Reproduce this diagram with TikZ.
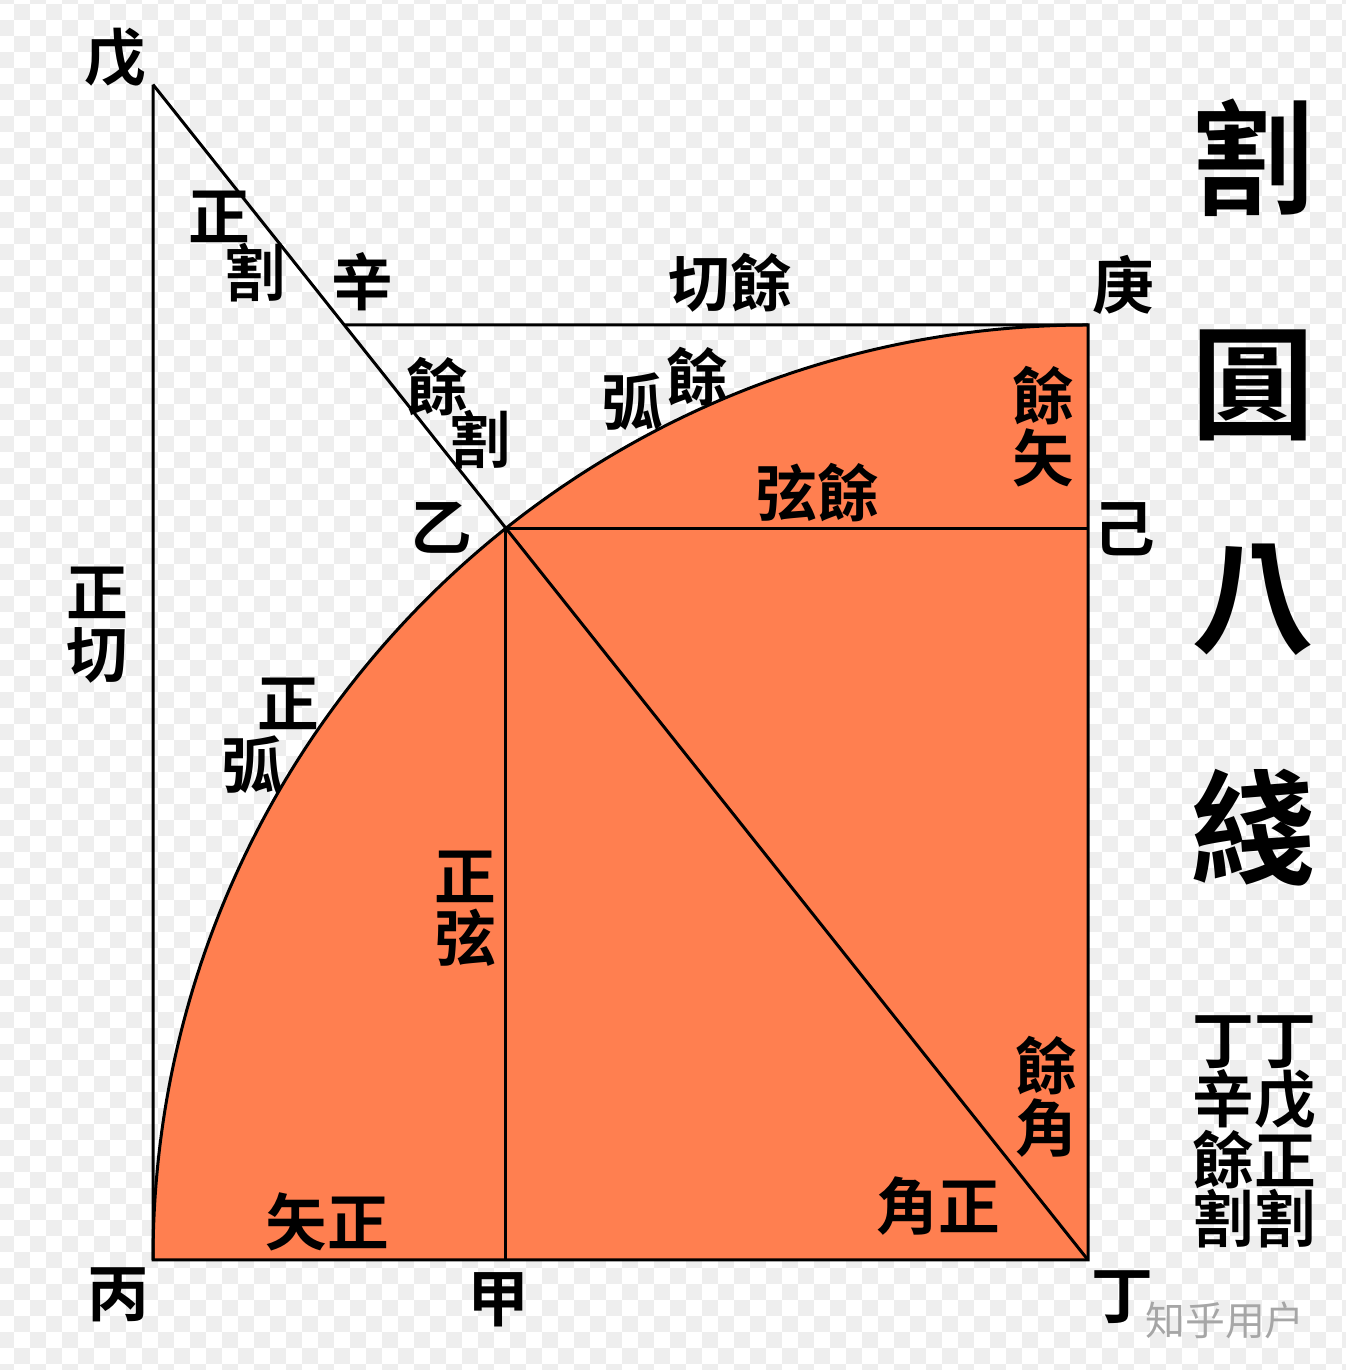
\documentclass[tikz,border=0pt]{standalone}
\usepackage{fontspec}
\usetikzlibrary{calc}
\newfontfamily\cjk{Noto Sans CJK TC Bold}
\newfontfamily\cjkwm{Noto Sans CJK SC}
\definecolor{chk}{HTML}{EEEEEE}
\definecolor{fan}{HTML}{FF7F50}
\begin{document}
\begin{tikzpicture}[x=1bp,y=1bp,
        lbl/.style={inner sep=0pt,align=center,font=\cjk\fontsize{62}{62}\selectfont},
        big/.style={inner sep=0pt,font=\cjk\fontsize{124}{124}\selectfont},
        ln/.style={line width=3bp}]
        \useasboundingbox (0,0) rectangle (1346,1370);
        % background squares
        \foreach \r in {0,...,86} {
            \pgfmathtruncatemacro\sh{mod(\r,2)*16}
            \foreach \c in {0,32,...,1344}
                \fill[chk] ({\c+\sh-2},{\r*16-10}) rectangle ++(16,16);
        }
        \coordinate (ding) at (1088,110);
        \coordinate (bing) at (153,110);
        \coordinate (geng) at (1088,1045);
        \coordinate (zuoshang) at (bing|-geng);
        \coordinate (yi) at ($(ding)+(128.5:935)$);
        \coordinate (jia) at (yi|-ding);
        \coordinate (ji) at (yi-|ding);
        \coordinate (xin) at (intersection of ding--yi and geng--zuoshang);
        \coordinate (wu) at (intersection of ding--yi and bing--zuoshang);
        \fill[fan] (ding) -- (bing) arc[start angle=180,end angle=90,radius=935] -- cycle;
        \draw[ln] (bing) arc[start angle=180,end angle=90,radius=935];
        \draw[ln] (wu) -- (bing) -- (ding) -- (geng) -- (xin);
        \draw[ln] (wu) -- (ding);
        \draw[ln] (yi) -- (jia);
        \draw[ln] (yi) -- (ji);
        % points
        \node[lbl] (wul) at (115,1312) {戊};
        \node[lbl] (xinl) at (362,1088) {辛};
        \node[lbl] (gengl) at (1123,1085) {庚};
        \node[lbl] (yil) at (441,842) {乙};
        \node[lbl] (jil) at (1124,841) {己};
        \node[lbl] (bingl) at (118,75) {丙};
        \node[lbl] (jial) at (498,70) {甲};
        \node[lbl] (dingl) at (1122,73) {丁};
        % lines
        \node[lbl] (zg1) at (219,1153) {正};
        \node[lbl] (zg2) at (255,1097) {割};
        \node[lbl] (qieyu) at (730,1087) {切餘};
        \node[lbl] (yg1) at (437,983) {餘};
        \node[lbl] (yg2) at (480,930) {割};
        \node[lbl] (hy1) at (632,968) {弧};
        \node[lbl] (hy2) at (697,993) {餘};
        \node[lbl] (yushi) at (1043,943) {餘\\矢};
        \node[lbl] (xianyu) at (817,877) {弦餘};
        \node[lbl] (zhengqie) at (97,745) {正\\切};
        \node[lbl] (zh1) at (288,666) {正};
        \node[lbl] (zh2) at (252,605) {弧};
        \node[lbl] (zhengxian) at (465,461) {正\\弦};
        \node[lbl] (yujiao) at (1046,273) {餘\\角};
        \node[lbl] (jiaozheng) at (938,164) {角正};
        \node[lbl] (shizheng) at (327,148) {矢正};
        % title
        \node[big] (t1) at (1253,1212) {割};
        \node[big] (t2) at (1253,985) {圓};
        \node[big] (t3) at (1253,770) {八};
        \node[big] (t4) at (1253,542) {綫};
        \node[lbl,font=\cjk\fontsize{62}{59}\selectfont] (gexian) at (1254,238) {丁丁\\辛戊\\餘正\\割割};
        \node[inner sep=0pt,text=black!35,font=\cjkwm\fontsize{40}{40}\selectfont] (wm) at (1225,50) {知乎用户};
\end{tikzpicture}
\end{document}
